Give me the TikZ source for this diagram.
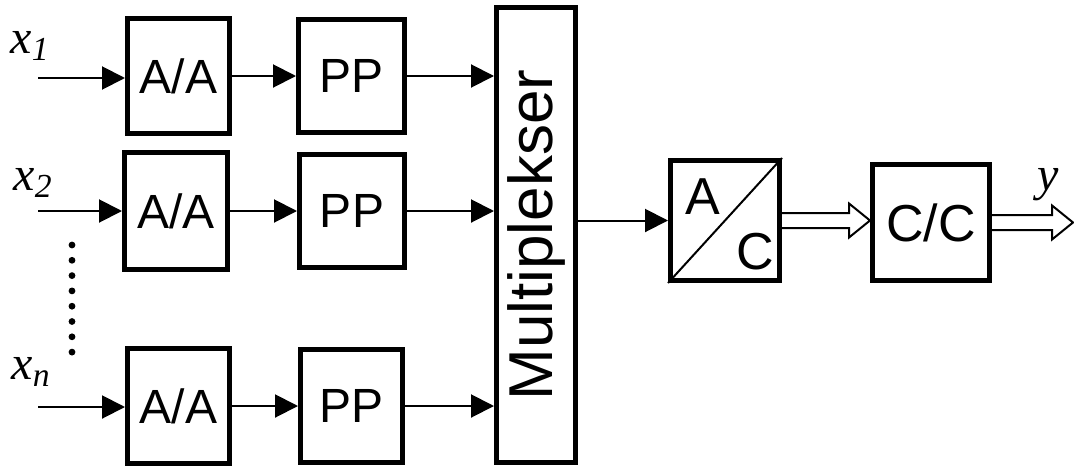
\documentclass[tikz,border=0pt]{standalone}
\usepackage{fontspec}
\setmainfont{Liberation Sans}
\newfontfamily\serifit{Liberation Serif}
\usetikzlibrary{arrows.meta,calc}
\begin{document}
\begin{tikzpicture}[x=0.5pt,y=-0.5pt,
  blk/.style={draw, line width=2.5pt, inner sep=0pt, font=\fontsize{24}{26}\selectfont},
  conn/.style={line width=1pt, -{Triangle[length=11.5pt,width=11.5pt]}},
  lbl/.style={font=\fontsize{24}{26}\serifit\itshape, inner sep=0pt},
  big/.style={font=\fontsize{26}{28}\selectfont, inner sep=0pt},
  dbl/.style={line width=1pt, line join=miter, to path={let \p1=(\tikztostart), \p2=(\tikztotarget) in
     (\x1,\y1+3.75pt) -- (\x2-10.5pt,\y1+3.75pt) -- (\x2-10.5pt,\y1+8.5pt) -- (\x2,\y1)
     -- (\x2-10.5pt,\y1-8.5pt) -- (\x2-10.5pt,\y1-3.75pt) -- (\x1,\y1-3.75pt)}}]
\useasboundingbox (0,0) rectangle (1074,471);

% first stage blocks
\node[blk, minimum width=51pt, minimum height=57.5pt] (aa1) at (178.5,76) {A/A};
\node[blk, minimum width=51.5pt, minimum height=58.5pt] (aa2) at (176,211) {A/A};
\node[blk, minimum width=51pt, minimum height=57.5pt] (aan) at (178.5,406) {A/A};
% second stage blocks
\node[blk, minimum width=53pt, minimum height=56.5pt] (pp1) at (351.5,76) {PP};
\node[blk, minimum width=52.5pt, minimum height=56.5pt] (pp2) at (352,211) {PP};
\node[blk, minimum width=51pt, minimum height=56.5pt] (ppn) at (351.5,406) {PP};
% multiplexer
\node[blk, minimum width=39.5pt, minimum height=227.5pt, font=\fontsize{31}{33}\selectfont] (mux) at (536,235) {\rotatebox{90}{Multiplekser}};
% A/C converter
\node[blk, minimum width=54.5pt, minimum height=60pt] (ac) at (725,220.5) {};
\draw[line width=1pt] (ac.south west) -- (ac.north east);
\node[big] (acA) at (703,197) {A};
\node[big] (acC) at (755,252) {C};
% C/C
\node[blk, minimum width=58.5pt, minimum height=58pt, font=\fontsize{26}{28}\selectfont] (cc) at (931,222.5) {C/C};

% inputs
\coordinate (i1) at (38,78);
\coordinate (i2) at (38,211);
\coordinate (in) at (38,407);
\node[lbl] (l1) at (30,46) {x\textsubscript{1}};
\node[lbl] (l2) at (33,183) {x\textsubscript{2}};
\node[lbl] (ln) at (31,372) {x\textsubscript{n}};
\foreach \i in {0,...,7} \fill (72,245+\i*15.3) circle (1.7pt);

\draw[conn] (i1) -- (i1 -| aa1.west);
\draw[conn] (i2) -- (aa2.west);
\draw[conn] (in) -- (in -| aan.west);
\draw[conn] (aa1.east) -- (pp1.west);
\draw[conn] (aa2.east) -- (pp2.west);
\draw[conn] (aan.east) -- (ppn.west);
\draw[conn] (pp1.east) -- (pp1.east -| mux.west);
\draw[conn] (pp2.east) -- (pp2.east -| mux.west);
\draw[conn] (ppn.east) -- (ppn.east -| mux.west);
\draw[conn] (mux.east |- ac.west) -- (ac.west);

% digital outputs
\draw[dbl] (ac.east) to (cc.west);
\coordinate (o) at (1073,222.5);
\draw[dbl] (cc.east) to (o);
\node[lbl] (ly) at (1048,185) {y};
\end{tikzpicture}
\end{document}
